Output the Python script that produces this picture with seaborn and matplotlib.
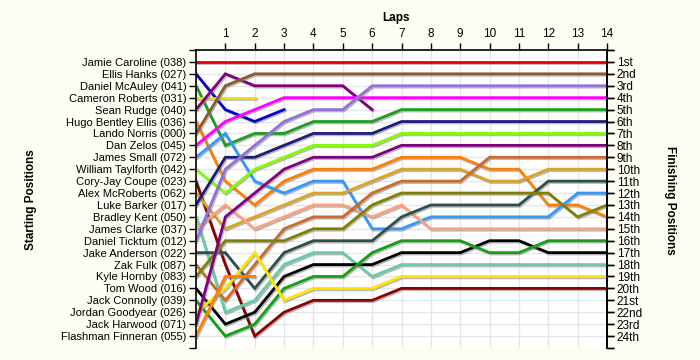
import pandas as pd
import numpy as np
import matplotlib
matplotlib.use("Agg")
import matplotlib.pyplot as plt
import matplotlib.patheffects as pe
import seaborn as sns

# starting grid order
drivers = [
    "Jamie Caroline (038)", "Ellis Hanks (027)", "Daniel McAuley (041)",
    "Cameron Roberts (031)", "Sean Rudge (040)", "Hugo Bentley Ellis (036)",
    "Lando Norris (000)", "Dan Zelos (045)", "James Small (072)",
    "William Taylforth (042)", "Cory-Jay Coupe (023)", "Alex McRoberts (062)",
    "Luke Barker (017)", "Bradley Kent (050)", "James Clarke (037)",
    "Daniel Ticktum (012)", "Jake Anderson (022)", "Zak Fulk (087)",
    "Kyle Hornby (083)", "Tom Wood (016)", "Jack Connolly (039)",
    "Jordan Goodyear (026)", "Jack Harwood (071)", "Flashman Finneran (055)",
]

# position at lap 0, 1, 2, ... (shorter lists = retired)
positions = [
    [1, 1, 1, 1, 1, 1, 1, 1, 1, 1, 1, 1, 1, 1, 1],
    [2, 5, 6, 5],
    [3, 8, 7, 7, 6, 6, 6, 5, 5, 5, 5, 5, 5, 5, 5],
    [4, 4, 4],
    [5, 2, 3, 3, 3, 3, 5],
    [6, 11, 13, 11, 10, 10, 10, 9, 9, 9, 10, 10, 13, 13, 14],
    [7, 3, 2, 2, 2, 2, 2, 2, 2, 2, 2, 2, 2, 2, 2],
    [8, 6, 5, 4, 4, 4, 4, 4, 4, 4, 4, 4, 4, 4, 4],
    [9, 7, 11, 12, 11, 11, 15, 15, 14, 14, 14, 14, 14, 12, 12],
    [10, 12, 10, 9, 8, 8, 8, 7, 7, 7, 7, 7, 7, 7, 7],
    [11, 18, 24, 22, 21, 21, 21, 20, 20, 20, 20, 20, 20, 20, 20],
    [12, 15, 14, 13, 12, 12, 11, 10, 10, 10, 11, 11, 10, 10, 10],
    [13, 9, 9, 8, 7, 7, 7, 6, 6, 6, 6, 6, 6, 6, 6],
    [14, 22, 21, 18, 17, 17, 19, 18, 18, 18, 18, 18, 18, 18, 18],
    [15, 13, 15, 14, 13, 13, 14, 13, 15, 15, 15, 15, 15, 15, 15],
    [16, 10, 8, 6, 5, 5, 3, 3, 3, 3, 3, 3, 3, 3, 3],
    [17, 17, 20, 17, 16, 16, 16, 14, 13, 13, 13, 13, 11, 11, 11],
    [18, 21, 18, 15, 14, 14, 12, 11, 11, 11, 9, 9, 9, 9, 9],
    [19, 16, 16, 16, 15, 15, 13, 12, 12, 12, 12, 12, 12, 14, 13],
    [20, 23, 22, 19, 18, 18, 18, 17, 17, 17, 16, 16, 17, 17, 17],
    [21, 24, 23, 20, 19, 19, 17, 16, 16, 16, 17, 17, 16, 16, 16],
    [22, 20, 17, 21, 20, 20, 20, 19, 19, 19, 19, 19, 19, 19, 19],
    [23, 14, 12, 10, 9, 9, 9, 8, 8, 8, 8, 8, 8, 8, 8],
    [24, 19, 19],
]

finish_labels = ["1st", "2nd", "3rd"] + [f"{i}th" for i in range(4, 21)] + ["21st", "22nd", "23rd", "24th"]
laps = list(range(1, 15))

colors = [
    "#E60000", "#0000CD", "#1E9E1E", "#F0DC00", "#800080", "#FF8000",
    "#8B5A2B", "#FF00FF", "#3399FF", "#80FF00", "#8B0000", "#DAA520",
    "#1C1C7A", "#66CDAA", "#FFA07A", "#9370DB", "#2F4F4F", "#CD6A2A",
    "#808000", "#000000", "#14A014", "#FFE600", "#800080", "#FF8000",
]

rows = []
for name, pos in zip(drivers, positions):
    for lap, p in enumerate(pos):
        rows.append({"driver": name, "lap": lap, "pos": p})
df = pd.DataFrame(rows)

plt.rcParams["font.family"] = ["Liberation Sans", "DejaVu Sans"]

bg = "#FDFDF4"
fig = plt.figure(figsize=(7, 3.6), dpi=100, facecolor=bg)
ax = fig.add_axes([196 / 700, 1 - 348 / 360, (607 - 196) / 700, (348 - 50) / 360])
ax.set_facecolor("white")

sns.lineplot(data=df, x="lap", y="pos", hue="driver", hue_order=drivers,
             palette=dict(zip(drivers, colors)), sort=False, estimator=None,
             legend=False, linewidth=2.0, ax=ax)
for line in ax.lines:
    line.set_solid_joinstyle("miter")
    line.set_path_effects([pe.SimpleLineShadow(offset=(0.8, -1.0), shadow_color="gray", alpha=0.55),
                           pe.Normal()])

ax.set_xlim(0, 14)
ax.set_ylim(25, 0)

# grid
for x in laps[:-1]:
    ax.axvline(x, color="#E6E6E6", lw=1, zorder=0)
for y in range(1, 25):
    ax.axhline(y, color="#E6E6E6", lw=1, zorder=0)

ax.xaxis.tick_top()
ax.set_xticks(laps)
ax.set_xticklabels([str(l) for l in laps])
ax.set_yticks(range(0, 26))
ax.set_yticklabels([""] + drivers + [""])
ax.tick_params(axis="x", direction="out", length=5, width=1, labelsize=8.5, pad=2)
ax.tick_params(axis="y", direction="out", length=5, width=1, labelsize=8, pad=2)
ax.tick_params(axis="y", right=True)

sec = ax.secondary_yaxis("right")
sec.set_yticks(range(0, 26))
sec.set_yticklabels([""] + finish_labels + [""])
sec.tick_params(direction="out", length=5, width=1, labelsize=8.5, pad=2)

for s in ["top", "left", "right"]:
    ax.spines[s].set_linewidth(1.2)
ax.spines["bottom"].set_visible(False)
sec.spines["right"].set_linewidth(1.2)
ax.set_xlabel("")
ax.set_ylabel("")

fig.text(396 / 700, 1 - 18 / 360, "Laps", ha="center", va="center", fontsize=8.5, fontweight="bold")
fig.text(31 / 700, 1 - 200 / 360, "Starting Positions", ha="center", va="center",
         rotation=90, fontsize=8.5, fontweight="bold")
fig.text(670 / 700, 1 - 200 / 360, "Finishing Positions", ha="center", va="center",
         rotation=270, fontsize=8.5, fontweight="bold")

fig.savefig("out.png", dpi=100, facecolor=bg)
